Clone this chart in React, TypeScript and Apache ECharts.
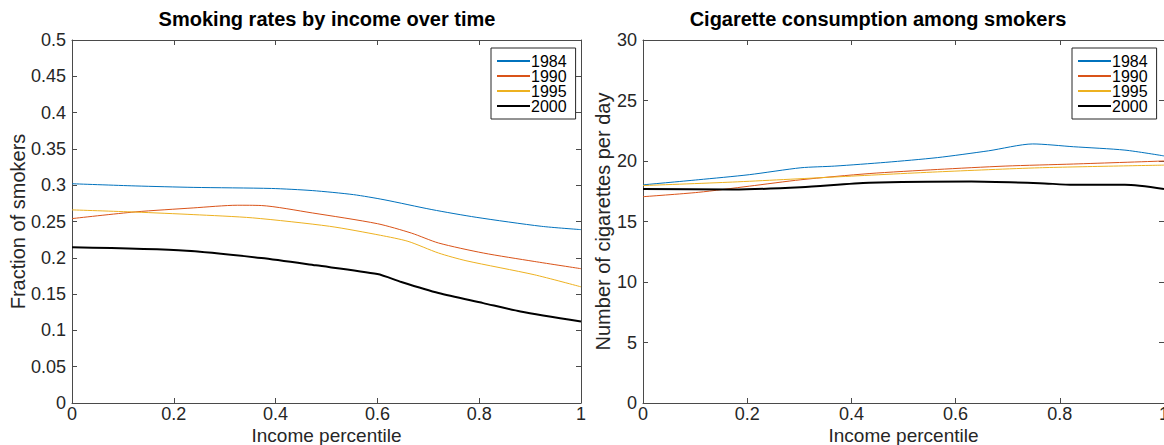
import React, { useEffect, useRef } from "react";
import * as echarts from "echarts";

// ---------- Data ----------
const years = ["1984", "1990", "1995", "2000"];
const colors = ["#0072BD", "#D95319", "#EDB120", "#000000"];
const widths = [1, 1, 1, 2];

// Left: fraction of smokers vs income percentile ([x, y])
const rate1984 = [[0, 0.302], [0.124, 0.299], [0.238, 0.297], [0.392, 0.2955], [0.472, 0.2926], [0.553, 0.287], [0.613, 0.28], [0.707, 0.2664], [0.794, 0.2558], [0.922, 0.2434], [1, 0.2388]];
const rate1990 = [[0, 0.254], [0.124, 0.2632], [0.238, 0.2687], [0.325, 0.2724], [0.372, 0.272], [0.472, 0.2618], [0.6, 0.247], [0.667, 0.234], [0.72, 0.2204], [0.808, 0.2066], [0.908, 0.195], [1, 0.185]];
const rate1995 = [[0, 0.266], [0.124, 0.263], [0.238, 0.2595], [0.355, 0.255], [0.506, 0.2434], [0.606, 0.231], [0.66, 0.2227], [0.72, 0.2066], [0.774, 0.196], [0.908, 0.1767], [1, 0.16]];
const rate2000 = [[0, 0.2144], [0.225, 0.2098], [0.372, 0.1997], [0.479, 0.1896], [0.6, 0.1776], [0.647, 0.1666], [0.72, 0.1514], [0.808, 0.1376], [0.881, 0.1261], [1, 0.1123]];

// Right: cigarettes per day among smokers ([x, y])
const cigs1984 = [[0, 18.03], [0.106, 18.45], [0.204, 18.87], [0.303, 19.44], [0.368, 19.58], [0.466, 19.89], [0.565, 20.28], [0.663, 20.84], [0.748, 21.41], [0.826, 21.18], [0.925, 20.9], [1, 20.42]];
const cigs1990 = [[0, 17.05], [0.106, 17.41], [0.204, 17.92], [0.303, 18.45], [0.434, 18.96], [0.565, 19.3], [0.695, 19.58], [0.826, 19.75], [1, 20.0]];
const cigs1995 = [[0, 17.97], [0.172, 18.26], [0.368, 18.68], [0.565, 19.1], [0.761, 19.44], [1, 19.66]];
const cigs2000 = [[0, 17.69], [0.172, 17.64], [0.303, 17.83], [0.434, 18.2], [0.63, 18.31], [0.761, 18.17], [0.826, 18.03], [0.925, 18.03], [1, 17.69]];

const rateSeries = [rate1984, rate1990, rate1995, rate2000];
const cigSeries = [cigs1984, cigs1990, cigs1995, cigs2000];

const titles = ["Smoking rates by income over time", "Cigarette consumption among smokers"];
const xLabel = "Income percentile";
const yLabels = ["Fraction of smokers", "Number of cigarettes per day"];

// ---------- Styling ----------
const FONT = "'Liberation Sans', Arial, Helvetica, sans-serif";
const TEXT = "#262626";
const AXIS = "#4a4a4a";

const grids = [
  { left: 72, top: 40, width: 509, height: 363, outerBoundsMode: "none", containLabel: false },
  { left: 643, top: 40, width: 521, height: 363, outerBoundsMode: "none", containLabel: false },
];

function xAxes(gridIndex: number) {
  const common = {
    type: "value",
    gridIndex,
    min: 0,
    max: 1,
    interval: 0.2,
    splitLine: { show: false },
    axisLine: { show: true, onZero: false, lineStyle: { color: AXIS, width: 1 } },
    axisTick: { show: true, inside: true, length: 5, lineStyle: { color: AXIS } },
  };
  return [
    {
      ...common,
      position: "bottom",
      name: xLabel,
      nameLocation: "middle",
      nameGap: 22,
      nameMoveOverlap: false,
      nameTextStyle: { fontFamily: FONT, fontSize: 19, lineHeight: 20, color: TEXT },
      axisLabel: { margin: 2, fontFamily: FONT, fontSize: 18, color: TEXT },
    },
    { ...common, position: "top", axisLabel: { show: false } },
  ];
}

function yAxes(gridIndex: number, max: number, interval: number, nameGap: number) {
  const common = {
    type: "value",
    gridIndex,
    min: 0,
    max,
    interval,
    splitLine: { show: false },
    axisLine: { show: true, onZero: false, lineStyle: { color: AXIS, width: 1 } },
    axisTick: { show: true, inside: true, length: 5, lineStyle: { color: AXIS } },
  };
  return [
    {
      ...common,
      position: "left",
      name: yLabels[gridIndex],
      nameLocation: "middle",
      nameGap,
      nameMoveOverlap: false,
      nameTextStyle: { fontFamily: FONT, fontSize: 20, color: TEXT },
      axisLabel: { margin: 6, fontFamily: FONT, fontSize: 18, color: TEXT },
    },
    { ...common, position: "right", axisLabel: { show: false } },
  ];
}

function legendFor(left: number) {
  return {
    data: years,
    orient: "vertical",
    left,
    top: 48,
    itemWidth: 33,
    itemHeight: 14,
    itemGap: -1,
    padding: [5, 9, 5, 5],
    borderColor: "#262626",
    borderWidth: 1,
    backgroundColor: "#ffffff",
    selectedMode: false,
    itemStyle: { opacity: 0 },
    textStyle: { fontFamily: FONT, fontSize: 16, lineHeight: 15, color: "#000", padding: [0, 0, 0, -4] },
  };
}

export default function App() {
  const ref = useRef<HTMLDivElement>(null);
  useEffect(() => {
    if (!ref.current) return;
    const chart = echarts.init(ref.current, undefined, { renderer: "svg" });
    const series: any[] = [];
    rateSeries.forEach((d, i) => {
      series.push({
        type: "line",
        name: years[i],
        xAxisIndex: 0,
        yAxisIndex: 0,
        data: d,
        symbol: "none",
        smooth: 0.25,
        lineStyle: { color: colors[i], width: widths[i] },
        itemStyle: { color: colors[i] },
      });
    });
    cigSeries.forEach((d, i) => {
      series.push({
        type: "line",
        name: years[i],
        xAxisIndex: 2,
        yAxisIndex: 2,
        data: d,
        symbol: "none",
        smooth: 0.25,
        lineStyle: { color: colors[i], width: widths[i] },
        itemStyle: { color: colors[i] },
      });
    });
    chart.setOption({
      animation: false,
      backgroundColor: "#ffffff",
      title: [
        { text: titles[0], left: 327, top: 9, textAlign: "center", padding: 0, textStyle: { fontFamily: FONT, fontSize: 20, fontWeight: "bold", color: "#000" } },
        { text: titles[1], left: 878, top: 9, textAlign: "center", padding: 0, textStyle: { fontFamily: FONT, fontSize: 20, fontWeight: "bold", color: "#000" } },
      ],
      legend: [legendFor(491), legendFor(1072)],
      grid: grids,
      xAxis: [...xAxes(0), ...xAxes(1)],
      yAxis: [...yAxes(0, 0.5, 0.05, 44), ...yAxes(1, 30, 5, 30)],
      series,
    });
    return () => chart.dispose();
  }, []);
  return <div ref={ref} style={{ position: "absolute", left: 0, top: 0, width: 1164, height: 445 }} />;
}
